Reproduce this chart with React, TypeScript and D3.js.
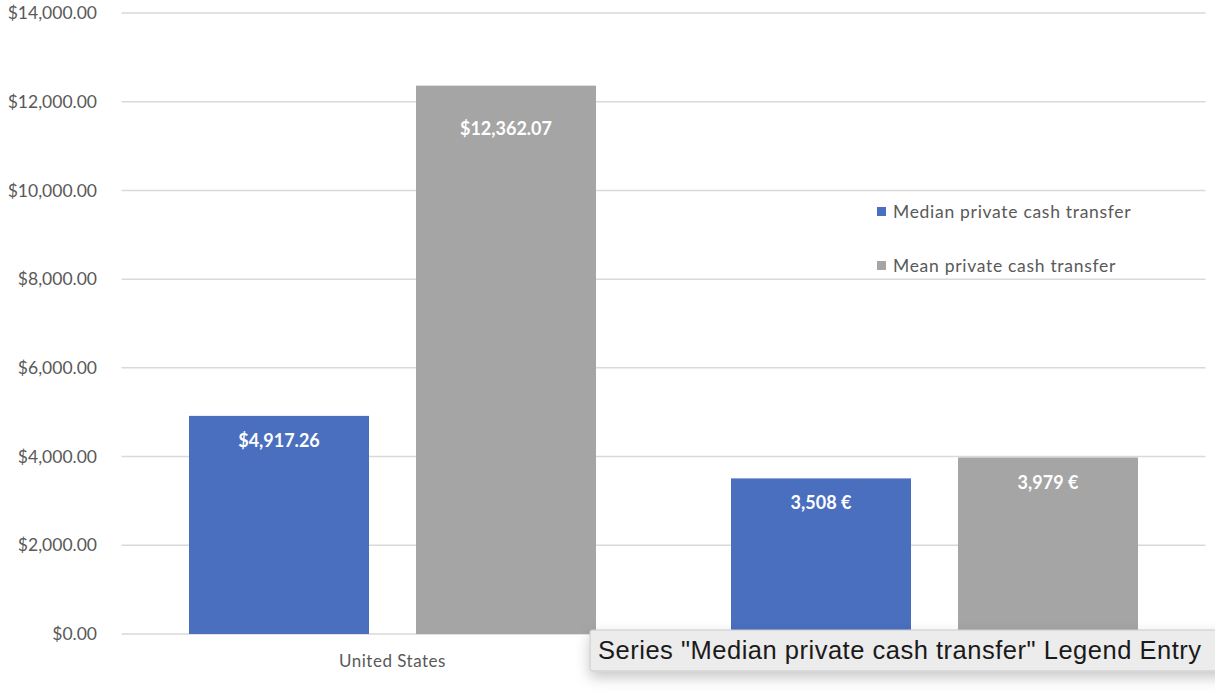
import * as d3 from 'd3'

const categories = ['United States', 'Germany']
const seriesNames = ['Median private cash transfer', 'Mean private cash transfer']
const medianValues = [4917.26, 3508]
const meanValues = [12362.07, 3979]
const valueLabels = [
  ['$4,917.26', '$12,362.07'],
  ['3,508 €', '3,979 €'],
]
const yTicks = [0, 2000, 4000, 6000, 8000, 10000, 12000, 14000]
const tooltipText = 'Series "Median private cash transfer" Legend Entry'

const colors = ['#4a6fbf', '#a5a5a5']
// label offset below bar top (the big US mean label was dragged lower)
const labelDy = [
  [25, 43],
  [24, 25],
]

const W = 1215
const H = 694
const plot = { left: 121.5, right: 1205.5, top: 13, bottom: 634 }
const FONT = 'Lato, "Open Sans", sans-serif'

export default function App() {
  const x0 = d3.scaleBand<string>().domain(categories).range([plot.left, plot.right]).padding(0)
  const x1 = d3
    .scaleBand<number>()
    .domain([0, 1])
    .range([67.5, x0.bandwidth() - 67.5])
    .paddingInner(0.207)
    .paddingOuter(0)
  const y = d3.scaleLinear().domain([0, 14000]).range([plot.bottom, plot.top])
  const fmt = (v: number) => '$' + d3.format(',.2f')(v)
  const series = [medianValues, meanValues]

  return (
    <svg
      width={W}
      height={H}
      style={{ position: 'absolute', left: 0, top: 0, background: '#fff' }}
      fontFamily={FONT}
    >
      <defs>
        <filter id="shadow" x="-5%" y="-50%" width="110%" height="250%">
          <feDropShadow dx="0" dy="6" stdDeviation="7" floodColor="#000" floodOpacity="0.22" />
        </filter>
      </defs>
      <rect width={W} height={H} fill="#fff" />

      {/* gridlines + y ticks */}
      {yTicks.map((t) => (
        <g key={t}>
          <line x1={plot.left} x2={plot.right} y1={y(t)} y2={y(t)} stroke="#d9d9d9" strokeWidth={1.5} />
          <text x={97} y={y(t)} dy="0.35em" textAnchor="end" fontSize={17.5} fill="#595959">
            {fmt(t)}
          </text>
        </g>
      ))}

      {/* bars */}
      {categories.map((c, ci) => (
        <g key={c} transform={`translate(${x0(c)},0)`}>
          {series.map((vals, si) => (
            <g key={si}>
              <rect
                x={x1(si)}
                y={y(vals[ci])}
                width={x1.bandwidth()}
                height={y(0) - y(vals[ci])}
                fill={colors[si]}
              />
              <text
                x={(x1(si) as number) + x1.bandwidth() / 2}
                y={y(vals[ci]) + labelDy[ci][si]}
                dy="0.35em"
                textAnchor="middle"
                fontSize={18}
                fontWeight="bold"
                fill="#fff"
              >
                {valueLabels[ci][si]}
              </text>
            </g>
          ))}
          {/* the second category label sits under the tooltip in the screenshot */}
          {ci === 0 && (
            <text
              x={x0.bandwidth() / 2}
              y={661}
              dy="0.35em"
              textAnchor="middle"
              fontSize={17}
              letterSpacing={0.5}
              fill="#595959"
            >
              {c}
            </text>
          )}
        </g>
      ))}

      {/* legend */}
      {seriesNames.map((s, i) => (
        <g key={s} transform={`translate(877,${207 + i * 54})`}>
          <rect width={9} height={9} fill={colors[i]} />
          <text x={16} y={4.5} dy="0.35em" fontSize={17.5} letterSpacing={0.7} fill="#595959">
            {s}
          </text>
        </g>
      ))}

      {/* hover tooltip */}
      <g filter="url(#shadow)">
        <rect x={590} y={630} width={640} height={41} fill="#ececec" stroke="#c8c8c8" strokeWidth={1} rx={2} />
      </g>
      <text
        x={598}
        y={659}
        fontSize={25.5}
        textLength={603}
        lengthAdjust="spacing"
        fill="#1a1a1a"
        fontFamily='"Liberation Sans", Arial, sans-serif'
      >
        {tooltipText}
      </text>
    </svg>
  )
}
